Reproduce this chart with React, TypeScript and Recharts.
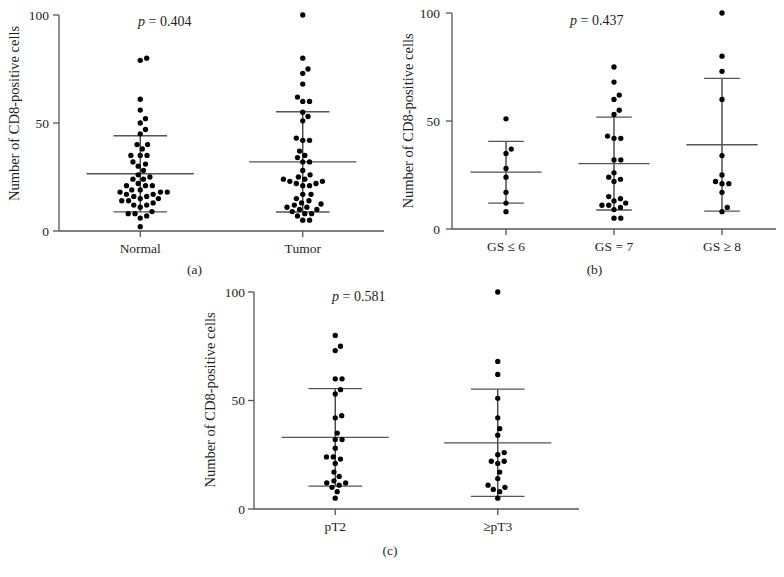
import React from 'react';
import { ScatterChart, Scatter, XAxis, YAxis, ReferenceLine } from 'recharts';

// ---------- data ----------
const catsA = ['Normal', 'Tumor'];
const normalVals = [80, 79, 61, 56, 52, 50, 47, 45, 40, 40, 38, 35, 35, 35, 32, 31, 30, 28, 26, 25, 24, 24, 22, 21, 21, 21, 19, 19, 18, 18, 18, 17, 17, 16, 16, 15, 15, 14, 14, 13, 12, 12, 11, 9, 8, 8, 7, 6, 2];
const tumorVals = [100, 80, 75, 73, 68, 62, 60, 60, 55, 53, 51, 43, 42, 42, 37, 35, 34, 32, 32, 28, 26, 25, 24, 24, 23, 23, 22, 22, 21, 21, 17, 17, 15, 14, 13, 12.5, 12, 11, 11, 10, 10, 9, 8, 8, 7, 5, 5];
const meansA = [26.5, 32.0];
const sdsA = [17.6, 23.2];

const catsB = ['GS \u2264 6', 'GS = 7', 'GS \u2265 8'];
const gs6Vals = [51, 37, 35, 28, 24, 17, 12, 8];
const gs7Vals = [75, 68, 62, 60, 55, 53, 43, 42, 42, 32, 32, 26, 24, 23, 22, 15, 14, 13, 12, 11, 11, 10, 9, 5, 5];
const gs8Vals = [100, 80, 73, 60, 34, 25, 22, 21, 21, 17, 10, 8];
const meansB = [26.3, 30.3, 39.0];
const sdsB = [14.3, 21.5, 30.7];

const catsC = ['pT2', '\u2265pT3'];
const pt2Vals = [80, 75, 73, 60, 60, 55, 53, 43, 42, 35, 32, 32, 28, 24, 24, 23, 21, 17, 15, 13, 12, 12, 11, 10, 8, 5];
const pt3Vals = [100, 68, 62, 51, 42, 37, 34, 26, 25, 22, 22, 21, 17, 14, 11, 10, 9, 8, 5];
const meansC = [33.0, 30.5];
const sdsC = [22.5, 24.7];

const yTicks = [0, 50, 100];
const pTexts = ['0.404', '0.437', '0.581'];
const yTitle = 'Number of CD8-positive cells';

// ---------- helpers ----------
const FONT = '"Liberation Serif", "Times New Roman", serif';
const TEXT = '#231f20';
const AXIS = '#555';
const DOT_D = 6.8;

// deterministic beeswarm layout (pixel offsets) from values
function swarm(values: number[], pxPerUnit: number): number[] {
  const order = values.map((v, i) => ({ v, i })).sort((a, b) => a.v - b.v);
  const placed: { x: number; y: number }[] = [];
  const offs: number[] = new Array(values.length).fill(0);
  for (const p of order) {
    const y = p.v * pxPerUnit;
    const intervals: [number, number][] = [];
    const cands: number[] = [0];
    for (const q of placed) {
      const dy = y - q.y;
      if (Math.abs(dy) < DOT_D) {
        const w = Math.sqrt(DOT_D * DOT_D - dy * dy);
        intervals.push([q.x - w, q.x + w]);
        cands.push(q.x - w, q.x + w);
      }
    }
    cands.sort((a, b) => Math.abs(a) - Math.abs(b) || b - a);
    let x = 0;
    for (const c of cands) {
      if (!intervals.some(([a, b]) => c > a + 1e-6 && c < b - 1e-6)) {
        x = c;
        break;
      }
    }
    placed.push({ x, y });
    offs[p.i] = x;
  }
  return offs;
}

const Dot = (props: any) => {
  const { cx, cy, payload } = props;
  if (cx == null || cy == null) return null;
  return <circle cx={cx + (payload?.dx ?? 0)} cy={cy} r={2.65} fill="#000" />;
};

type PanelProps = {
  left: number;
  top: number;
  width: number;
  height: number;
  plotLeft: number;
  plotTop: number;
  plotRight: number;
  plotBottom: number;
  cats: string[];
  groups: number[][];
  means: number[];
  sds: number[];
  yTickMargin: number;
};

function Panel(p: PanelProps) {
  const plotH = p.plotBottom - p.plotTop;
  const pxPerUnit = plotH / 100;
  const data: { x: number; y: number; dx: number }[] = [];
  p.groups.forEach((vals, gi) => {
    const offs = swarm(vals, pxPerUnit);
    vals.forEach((v, k) => data.push({ x: gi + 0.5, y: v, dx: offs[k] }));
  });
  const n = p.cats.length;
  const xTicks = p.cats.map((_, i) => i + 0.5);
  const lines: React.ReactNode[] = [];
  p.means.forEach((m, i) => {
    const c = i + 0.5;
    const s = p.sds[i];
    lines.push(
      <ReferenceLine key={`v${i}`} segment={[{ x: c, y: m - s }, { x: c, y: m + s }]} stroke="#333" strokeWidth={1.3} />,
      <ReferenceLine key={`m${i}`} segment={[{ x: c - 0.33, y: m }, { x: c + 0.33, y: m }]} stroke={AXIS} strokeWidth={1.3} />,
      <ReferenceLine key={`u${i}`} segment={[{ x: c - 0.165, y: m + s }, { x: c + 0.165, y: m + s }]} stroke={AXIS} strokeWidth={1.3} />,
      <ReferenceLine key={`l${i}`} segment={[{ x: c - 0.165, y: m - s }, { x: c + 0.165, y: m - s }]} stroke={AXIS} strokeWidth={1.3} />
    );
  });
  return (
    <div style={{ position: 'absolute', left: p.left, top: p.top, width: p.width, height: p.height }}>
      <ScatterChart
        width={p.width}
        height={p.height}
        margin={{ top: p.plotTop, right: p.width - p.plotRight, left: 0, bottom: 0 }}
        style={{ overflow: 'visible' }}
      >
        <XAxis
          type="number"
          dataKey="x"
          domain={[0, n]}
          ticks={xTicks}
          tickFormatter={(v: number) => p.cats[Math.floor(v)]}
          height={p.height - p.plotBottom}
          axisLine={{ stroke: AXIS, strokeWidth: 1.3 }}
          tickLine={{ stroke: AXIS, strokeWidth: 1.3 }}
          tickSize={6}
          tickMargin={6}
          tick={{ fontFamily: FONT, fontSize: 13.5, fill: TEXT }}
        />
        <YAxis
          type="number"
          dataKey="y"
          domain={[0, 100]}
          ticks={yTicks}
          width={p.plotLeft}
          axisLine={{ stroke: AXIS, strokeWidth: 1.3 }}
          tickLine={{ stroke: AXIS, strokeWidth: 1.3 }}
          tickSize={6}
          tickMargin={p.yTickMargin}
          tick={{ fontFamily: FONT, fontSize: 13.5, fill: TEXT }}
        />
        {lines}
        <Scatter data={data} shape={Dot} isAnimationActive={false} />
      </ScatterChart>
    </div>
  );
}

export default function App() {
  return (
    <div style={{ position: 'absolute', left: 0, top: 0, width: 784, height: 577, background: '#fff' }}>
      <Panel
        left={0} top={0} width={392} height={290}
        plotLeft={59} plotTop={15} plotRight={384} plotBottom={231}
        cats={catsA} groups={[normalVals, tumorVals]} means={meansA} sds={sdsA} yTickMargin={4}
      />
      <Panel
        left={392} top={0} width={392} height={290}
        plotLeft={60} plotTop={13} plotRight={384} plotBottom={229}
        cats={catsB} groups={[gs6Vals, gs7Vals, gs8Vals]} means={meansB} sds={sdsB} yTickMargin={6}
      />
      <Panel
        left={196} top={280} width={392} height={297}
        plotLeft={58} plotTop={12} plotRight={383} plotBottom={229}
        cats={catsC} groups={[pt2Vals, pt3Vals]} means={meansC} sds={sdsC} yTickMargin={3}
      />
      <svg
        width={784}
        height={577}
        style={{ position: 'absolute', left: 0, top: 0, pointerEvents: 'none' }}
        fontFamily={FONT}
        fill={TEXT}
      >
        <text transform="translate(19,113.5) rotate(-90)" textAnchor="middle" fontSize={14.5}>{yTitle}</text>
        <text transform="translate(413,121) rotate(-90)" textAnchor="middle" fontSize={14.5}>{yTitle}</text>
        <text transform="translate(215,400) rotate(-90)" textAnchor="middle" fontSize={14.5}>{yTitle}</text>

        <text x={138} y={26} fontSize={14}><tspan fontStyle="italic">p</tspan> = {pTexts[0]}</text>
        <text x={570} y={25} fontSize={14}><tspan fontStyle="italic">p</tspan> = {pTexts[1]}</text>
        <text x={332} y={301} fontSize={14}><tspan fontStyle="italic">p</tspan> = {pTexts[2]}</text>

        <text x={194.5} y={274} fontSize={13.5} textAnchor="middle">(a)</text>
        <text x={594.5} y={274} fontSize={13.5} textAnchor="middle">(b)</text>
        <text x={390} y={555} fontSize={13.5} textAnchor="middle">(c)</text>
      </svg>
    </div>
  );
}
